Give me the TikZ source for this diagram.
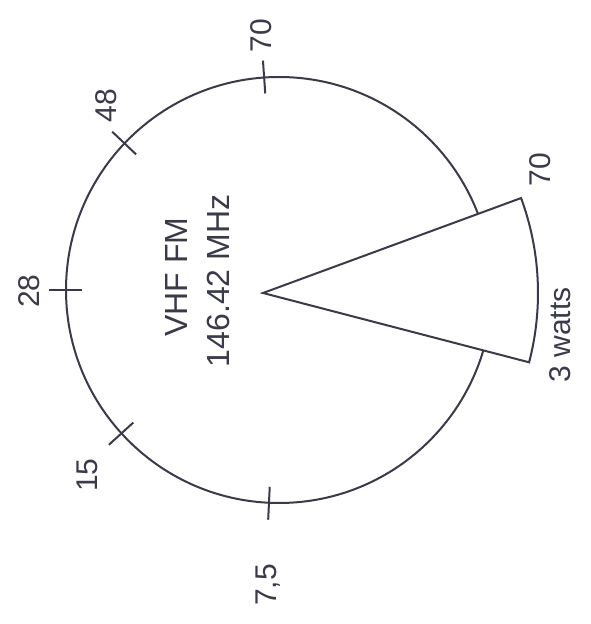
\documentclass[tikz,border=0pt]{standalone}
\usepackage{fontspec}
\setmainfont{Liberation Sans}
\definecolor{pen}{RGB}{58,58,72}
\begin{document}
\begin{tikzpicture}[x=1pt,y=1pt,
  line/.style={draw=pen,line width=2pt},
  ticklbl/.style={text=pen,rotate=90,inner sep=0pt,font=\fontsize{30}{34}\selectfont},
  biglbl/.style={text=pen,rotate=90,inner sep=0pt,font=\fontsize{32}{36}\selectfont}]
\useasboundingbox (0,0) rectangle (590,624);
\coordinate (O) at (279,334);
\coordinate (A) at (263,331);
% circle
\draw[line] (O) circle[radius=213pt];
% ticks
\foreach \a in {94,136.5,180,222.3,267.3}{
  \draw[line] (O) ++(\a:197pt) -- ++(\a:33pt);
}
% wedge
\filldraw[line,fill=white,line join=miter] (A) -- ++(-14.6:275pt) arc[start angle=-14.6,end angle=20.2,radius=275pt] -- cycle;
% labels
\node[ticklbl] (l70) at (261,588) {70};
\node[ticklbl] (l48) at (106,518) {48};
\node[ticklbl] (l28) at (29,333) {28};
\node[ticklbl] (l15) at (87,149) {15};
\node[ticklbl] (l75) at (268,39) {7,5};
\node[ticklbl] (w70) at (540,454) {70};
\node[ticklbl] (watts) at (560,289) {3 watts};
\node[biglbl] (vhf) at (176,347) {VHF FM};
\node[biglbl] (mhz) at (218,343) {146.42 MHz};
\end{tikzpicture}
\end{document}
